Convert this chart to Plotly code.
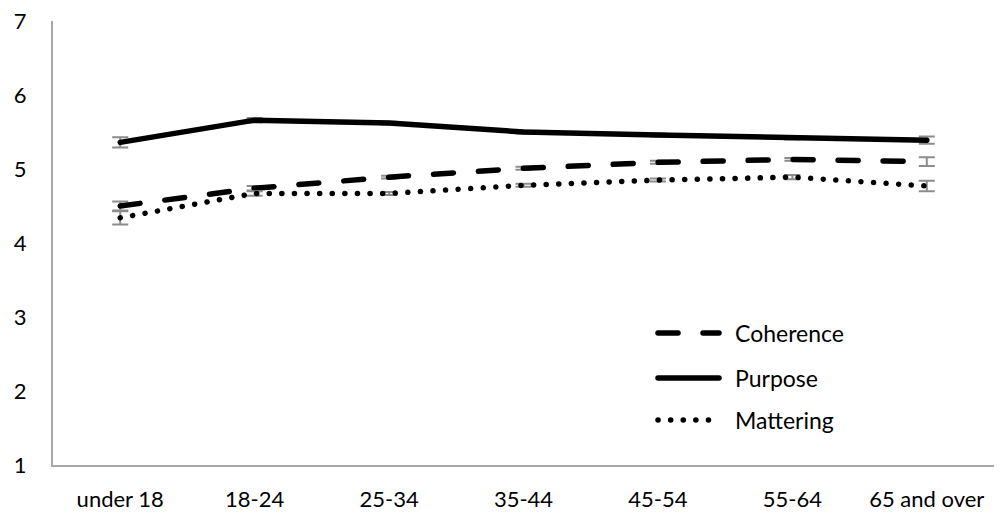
import plotly.graph_objects as go

# Data
age_groups = ['under 18', '18-24', '25-34', '35-44', '45-54', '55-64', '65 and over']

coherence = [4.50, 4.74, 4.89, 5.01, 5.09, 5.13, 5.10]
coherence_err = [0.06, 0.03, 0.02, 0.02, 0.02, 0.02, 0.06]

purpose = [5.36, 5.66, 5.62, 5.50, 5.46, 5.42, 5.39]
purpose_err = [0.07, 0.03, 0.02, 0.02, 0.02, 0.02, 0.05]

mattering = [4.34, 4.67, 4.67, 4.78, 4.85, 4.89, 4.77]
mattering_err = [0.09, 0.03, 0.02, 0.02, 0.02, 0.03, 0.07]

# dash patterns assume round line caps (set after render below)
series = [
    ('Coherence', coherence, coherence_err, '20px,25px'),
    ('Purpose', purpose, purpose_err, 'solid'),
    ('Mattering', mattering, mattering_err, '0.1px,12.5px'),
]

font_family = 'Lato, Open Sans, sans-serif'

fig = go.Figure()

for name, vals, errs, dash in series:
    fig.add_trace(
        go.Scatter(
            x=age_groups,
            y=vals,
            mode='lines',
            name=name,
            line=dict(color='black', width=5.5, dash=dash),
            error_y=dict(type='data', array=errs, visible=True,
                         color='#8c8c8c', thickness=2, width=8),
            showlegend=False
        )
    )

# Hand-built legend (longer line samples than plotly's own legend)
legend_y = [333, 378, 420]
for (name, vals, errs, dash), py in zip(series, legend_y):
    yp = (465 - py) / 444
    fig.add_shape(
        type='line', xref='paper', yref='paper',
        x0=(658 - 53) / 941, x1=(719 - 53) / 941, y0=yp, y1=yp,
        line=dict(color='black', width=5.5, dash=dash)
    )
    fig.add_annotation(
        xref='paper', yref='paper', x=(733 - 53) / 941, y=yp,
        text=name, showarrow=False, xanchor='left', yanchor='middle',
        font=dict(size=23, color='black', family=font_family)
    )

fig.update_xaxes(
    range=[-0.5, 6.5], showline=True, linecolor='#a6a6a6', linewidth=2,
    automargin=False, showgrid=False, ticks='', ticklabelstandoff=14,
    tickfont=dict(size=22, color='black', family=font_family)
)
fig.update_yaxes(
    range=[1, 7], dtick=1, showline=True, linecolor='#a6a6a6', linewidth=2,
    automargin=False, showgrid=False, zeroline=False, ticks='',
    ticklabelstandoff=20,
    tickfont=dict(size=22, color='black', family=font_family)
)

fig.update_layout(
    width=1000, height=515,
    margin=dict(l=53, r=6, t=21, b=50),
    plot_bgcolor='white', paper_bgcolor='white',
    showlegend=False
)

round_caps = """
document.body.style.margin = '0';
document.querySelectorAll('path.js-line, .shapelayer path').forEach(function (p) {
    p.style.strokeLinecap = 'round';
});
"""

fig.write_html("out.html", config={'displayModeBar': False}, post_script=round_caps)
